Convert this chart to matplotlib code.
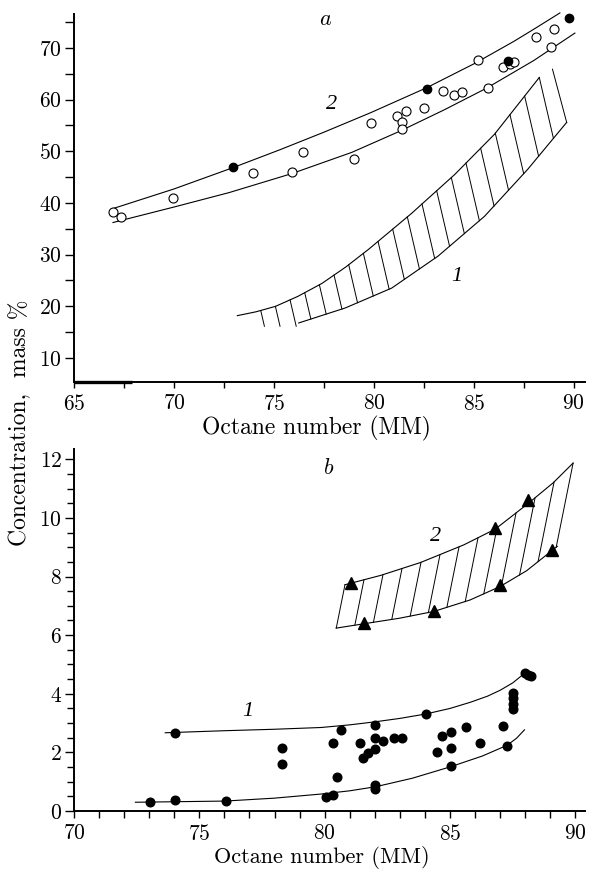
import numpy as np
import matplotlib.pyplot as plt
from matplotlib.ticker import MultipleLocator

plt.rcParams['font.family'] = ['cmr10', 'DejaVu Serif']
plt.rcParams['mathtext.fontset'] = 'cm'
plt.rcParams['axes.formatter.use_mathtext'] = True

# ---- panel a ----
a_open_x = [66.95, 67.35, 69.95, 73.95, 75.9, 76.45, 79.0, 79.85, 81.15, 81.6, 81.4, 81.4,
            82.5, 83.45, 84.0, 84.4, 85.2, 85.7, 86.45, 86.8, 87.0, 88.1, 88.85, 89.0]
a_open_y = [38.2, 37.2, 40.9, 45.7, 45.9, 49.8, 48.6, 55.4, 56.8, 57.8, 55.6, 54.3,
            58.3, 61.7, 60.9, 61.5, 67.7, 62.2, 66.3, 66.9, 67.3, 72.1, 70.2, 73.7]
a_fill_x = [72.95, 82.65, 86.7, 89.75]
a_fill_y = [46.9, 62.0, 67.5, 75.8]

# curve 2: two envelope lines
a2_up_x = [66.95, 70.0, 72.93, 75.3, 77.5, 79.85, 82.63, 85.03, 87.0, 88.1, 89.3]
a2_up_y = [38.9, 42.7, 46.8, 50.3, 53.7, 57.5, 62.3, 67.0, 71.3, 73.9, 76.8]
a2_lo_x = [66.95, 70.0, 72.76, 75.91, 78.9, 81.3, 83.5, 85.62, 88.0, 90.05]
a2_lo_y = [36.2, 39.2, 42.0, 45.7, 49.8, 53.9, 58.0, 62.2, 67.6, 72.9]

# curve 1: hatched band
a1_up_x = [73.17, 74.1, 75.08, 76.2, 77.4, 78.6, 79.73, 81.88, 84.04, 86.03, 88.27]
a1_up_y = [18.16, 18.9, 19.96, 21.9, 24.4, 27.6, 31.0, 37.96, 45.5, 53.3, 64.3]
a1_lo_x = [76.24, 78.57, 80.89, 83.21, 85.53, 87.69, 89.64]
a1_lo_y = [16.74, 19.65, 23.5, 29.7, 37.4, 46.5, 55.6]
a1_edge_x = [88.93, 89.64]
a1_edge_y = [65.9, 55.6]

# ---- panel b ----
b_pts_x = [74.02, 73.02, 74.02, 76.05, 78.31, 78.31, 80.33, 80.65, 80.5, 80.06, 80.33,
           82.0, 81.42, 82.0, 82.31, 82.0, 81.71, 81.52, 82.75, 83.1, 82.0, 82.0,
           84.03, 84.69, 85.05, 84.49, 85.02, 85.02, 85.62, 86.21, 87.11, 87.29,
           87.51, 87.51, 87.51, 87.51, 88.0, 88.13, 88.23]
b_pts_y = [2.67, 0.30, 0.38, 0.34, 2.14, 1.61, 2.31, 2.77, 1.15, 0.49, 0.55,
           2.94, 2.33, 2.5, 2.4, 2.11, 1.97, 1.8, 2.5, 2.5, 0.89, 0.74,
           3.3, 2.57, 2.69, 2.03, 2.16, 1.55, 2.85, 2.31, 2.9, 2.23,
           4.02, 3.85, 3.65, 3.47, 4.70, 4.64, 4.59]

b1_up_x = [73.64, 76.0, 78.0, 79.86, 81.0, 81.98, 83.0, 84.03, 85.0, 85.81, 86.5, 87.0, 87.5, 87.86]
b1_up_y = [2.67, 2.74, 2.79, 2.85, 2.94, 3.04, 3.16, 3.31, 3.5, 3.71, 3.92, 4.12, 4.37, 4.62]
b1_lo_x = [72.45, 76.02, 78.0, 79.86, 81.0, 82.04, 83.5, 85.02, 86.3, 87.27, 87.65, 87.97]
b1_lo_y = [0.30, 0.34, 0.44, 0.58, 0.69, 0.83, 1.12, 1.51, 1.88, 2.24, 2.48, 2.77]

b_tri_x = [81.05, 81.58, 84.36, 86.81, 87.0, 88.13, 89.05]
b_tri_y = [7.78, 6.41, 6.83, 9.65, 7.72, 10.62, 8.91]

b2_up_x = [80.81, 82.24, 83.83, 85.55, 86.81, 88.13, 89.12, 89.91]
b2_up_y = [7.72, 8.04, 8.48, 9.08, 9.62, 10.5, 11.2, 11.87]
b2_lo_x = [80.46, 81.58, 83.0, 84.36, 85.8, 87.0, 88.06, 89.28]
b2_lo_y = [6.24, 6.39, 6.58, 6.81, 7.2, 7.66, 8.2, 9.03]


def hatch(ax, xu, yu, xl, yl, starts, k, floor):
    # slanted hatch lines from the upper edge down to the lower edge
    for x0 in starts:
        y0 = np.interp(x0, xu, yu)
        ys = np.linspace(y0, y0 - 40, 8000)
        xs = x0 + k * (y0 - ys)
        lo = np.interp(xs, xl, yl, left=floor, right=np.nan)
        hit = np.nonzero(ys <= lo)[0]
        if len(hit) == 0:
            continue
        i = hit[0]
        ax.plot([x0, xs[i]], [y0, ys[i]], color='k', lw=0.7)


def style(ax, xlen, ylen, ylen_minor):
    for s in ['top', 'right']:
        ax.spines[s].set_visible(False)
    for s in ['left', 'bottom']:
        ax.spines[s].set_linewidth(1.4)
    ax.tick_params(axis='x', which='both', direction='out', length=xlen, width=1.0,
                   labelsize=15.5, pad=4)
    ax.tick_params(axis='y', which='major', direction='out', length=ylen, width=1.0,
                   labelsize=15.5, pad=2)
    ax.tick_params(axis='y', which='minor', direction='out', length=ylen_minor, width=1.0)


fig = plt.figure(figsize=(5.89, 8.69), dpi=100)
ax1 = fig.add_axes([0.1256, 0.5604, 0.8674, 0.4235])
ax2 = fig.add_axes([0.1256, 0.0667, 0.8674, 0.4166])

# panel a
ax1.plot(a2_up_x, a2_up_y, color='k', lw=0.8, clip_on=False)
ax1.plot(a2_lo_x, a2_lo_y, color='k', lw=0.8)
ax1.plot(a1_up_x, a1_up_y, color='k', lw=0.8)
ax1.plot(a1_lo_x, a1_lo_y, color='k', lw=0.8)
ax1.plot(a1_edge_x, a1_edge_y, color='k', lw=0.7)
hatch(ax1, a1_up_x, a1_up_y, a1_lo_x, a1_lo_y, np.linspace(74.34, 88.27, 20), 0.06, 16.1)
ax1.plot(a_open_x, a_open_y, 'o', ms=6.5, mfc='white', mec='k', mew=0.8)
ax1.plot(a_fill_x, a_fill_y, 'o', ms=6, mfc='k', mec='k', clip_on=False)
ax1.text(77.57, 75.6, '$a$', fontsize=16, ha='center', va='center')
ax1.text(77.9, 59.1, '2', fontsize=16, ha='center', va='center',
         family='Liberation Serif', style='italic')
ax1.text(84.12, 25.8, '1', fontsize=16, ha='center', va='center',
         family='Liberation Serif', style='italic')

ax1.set_xlim(65, 90.55)
ax1.set_ylim(5.3, 76.6)
ax1.xaxis.set_major_locator(MultipleLocator(5))
ax1.xaxis.set_minor_locator(MultipleLocator(2.5))
ax1.yaxis.set_major_locator(MultipleLocator(10))
ax1.yaxis.set_minor_locator(MultipleLocator(5))
ax1.set_yticks([10, 20, 30, 40, 50, 60, 70])
style(ax1, 4.5, 6.5, 6.5)
ax1.plot([65, 67.9], [5.3, 5.3], color='k', lw=2.4, clip_on=False, solid_capstyle='butt')

# panel b
ax2.plot(b1_up_x, b1_up_y, color='k', lw=0.8)
ax2.plot(b1_lo_x, b1_lo_y, color='k', lw=0.8)
ax2.plot(b2_up_x, b2_up_y, color='k', lw=0.8)
ax2.plot(b2_lo_x, b2_lo_y, color='k', lw=0.8)
hatch(ax2, b2_up_x, b2_up_y, b2_lo_x, b2_lo_y, np.linspace(80.81, 89.91, 13), -0.235, 6.24)
ax2.plot(b_pts_x, b_pts_y, 'o', ms=6.2, mfc='k', mec='k')
ax2.plot(b_tri_x, b_tri_y, '^', ms=8.5, mfc='k', mec='k')
ax2.text(80.14, 11.7, '$b$', fontsize=16, ha='center', va='center')
ax2.text(84.42, 9.36, '2', fontsize=16, ha='center', va='center',
         family='Liberation Serif', style='italic')
ax2.text(76.95, 3.39, '1', fontsize=16, ha='center', va='center',
         family='Liberation Serif', style='italic')

ax2.set_xlim(70.0, 90.38)
ax2.set_ylim(0, 12.35)
ax2.xaxis.set_major_locator(MultipleLocator(5))
ax2.xaxis.set_minor_locator(MultipleLocator(1))
ax2.yaxis.set_major_locator(MultipleLocator(2))
ax2.yaxis.set_minor_locator(MultipleLocator(0.5))
style(ax2, 5, 6.5, 5)

fig.text(0.537, 0.507, 'Octane number (MM)', fontsize=17, ha='center', va='center')
fig.text(0.547, 0.0135, 'Octane number (MM)', fontsize=16, ha='center', va='center')
fig.text(0.034, 0.514, 'Concentration,  mass %', fontsize=17, ha='center', va='center',
         rotation=90)

fig.savefig('out.png', dpi=100)
